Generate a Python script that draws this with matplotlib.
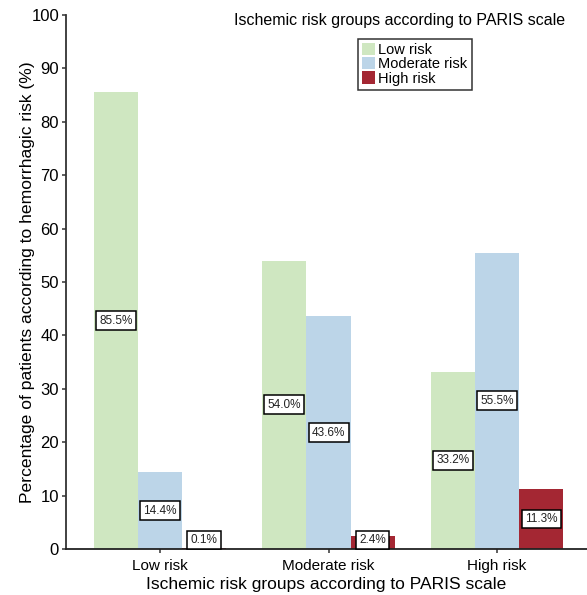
import matplotlib
matplotlib.use("Agg")
import matplotlib.pyplot as plt
import numpy as np
from matplotlib.patches import Patch

plt.rcParams['font.family'] = ['Liberation Sans', 'DejaVu Sans']

# Data
groups = ["Low risk", "Moderate risk", "High risk"]
series = ["Low risk", "Moderate risk", "High risk"]
low_vals = [85.5, 54.0, 33.2]
mod_vals = [14.4, 43.6, 55.5]
high_vals = [0.1, 2.4, 11.3]
colors = ["#cfe7c1", "#bcd5e8", "#a42733"]

fig = plt.figure(figsize=(5.87, 5.95), dpi=100)
ax = fig.add_axes([0.1124, 0.0773, 0.8876, 0.8977])

x = np.arange(1, len(groups) + 1)
width = 0.262
for i, (vals, c) in enumerate(zip([low_vals, mod_vals, high_vals], colors)):
    pos = x + (i - 1) * width
    ax.bar(pos, vals, width=width, color=c, linewidth=0)
    for p, v in zip(pos, vals):
        ax.text(p, max(v / 2, 1.7), f"{v:.1f}%", ha="center", va="center",
                fontsize=8.5, color="#222222",
                bbox=dict(boxstyle="square,pad=0.28", fc="white", ec="black", lw=1.1))

ax.set_xlim(0.442, 3.534)
ax.set_ylim(0, 100)
ax.set_yticks(range(0, 101, 10))
ax.set_xticks(x)
ax.set_xticklabels(groups)
ax.tick_params(axis="both", colors="#333333", labelcolor="black", length=3, width=1.1)
ax.tick_params(axis="y", labelsize=12, pad=2)
ax.tick_params(axis="x", labelsize=11, pad=4)
for s in ["top", "right"]:
    ax.spines[s].set_visible(False)
ax.spines["left"].set_color("#333333")
ax.spines["bottom"].set_color("#222222")
ax.spines["left"].set_linewidth(1.3)
ax.spines["bottom"].set_linewidth(1.3)

ax.set_xlabel("Ischemic risk groups according to PARIS scale", fontsize=12.5, labelpad=3)
ax.set_ylabel("Percentage of patients according to hemorrhagic risk (%)", fontsize=12.6, labelpad=-3)

fig.text(0.681, 0.966, "Ischemic risk groups according to PARIS scale", ha="center", va="center",
         fontsize=11.5)
handles = [Patch(facecolor=c, edgecolor="none") for c in colors]
leg = ax.legend(handles, series, loc="upper left", bbox_to_anchor=(0.56, 0.955),
                frameon=True, fancybox=False, fontsize=10.5, handlelength=0.9,
                handleheight=0.9, handletextpad=0.2, labelspacing=0.0,
                borderpad=0.3, borderaxespad=0)
leg.get_frame().set_edgecolor("black")
leg.get_frame().set_linewidth(1.1)

fig.savefig("out.png", dpi=100)
